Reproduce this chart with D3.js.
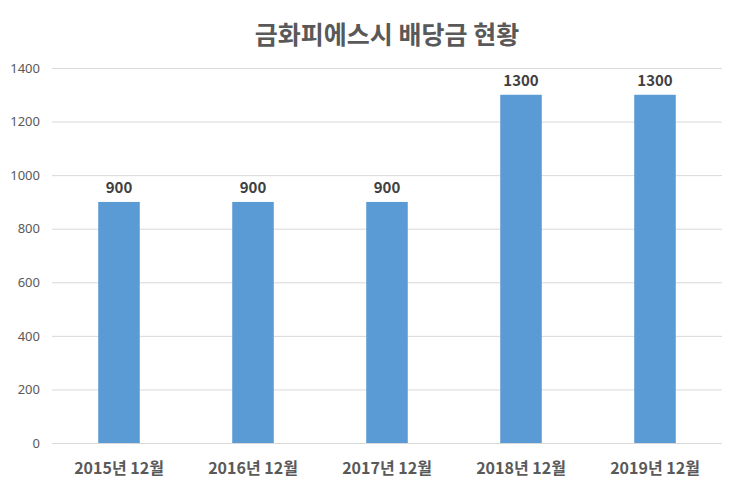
<!DOCTYPE html>
<html>
<head>
<meta charset="utf-8">
<script src="https://cdn.jsdelivr.net/npm/d3@7"></script>
<style>
  body { margin: 0; background: #fff; }
  text { font-family: "Noto Sans CJK KR", "Noto Sans", sans-serif; }
</style>
</head>
<body>
<div id="chart"></div>
<script>
const categories = ['2015년 12월', '2016년 12월', '2017년 12월', '2018년 12월', '2019년 12월'];
const dividends = [900, 900, 900, 1300, 1300];
const yTicks = [0, 200, 400, 600, 800, 1000, 1200, 1400];

const width = 740;
const height = 497;
const margin = { top: 68, right: 18, bottom: 54, left: 52 };

const svg = d3.select('#chart')
  .append('svg')
  .attr('width', width)
  .attr('height', height);

const g = svg.append('g')
  .attr('transform', `translate(${margin.left}, ${margin.top})`);

const innerW = width - margin.left - margin.right;
const innerH = height - margin.top - margin.bottom;

// Scales
const x = d3.scaleBand()
  .domain(categories)
  .range([0, innerW])
  .paddingInner(0.69)
  .paddingOuter(0.345);

const y = d3.scaleLinear()
  .domain([0, 1400])
  .range([innerH, 0]);

// Gridlines
g.append('g')
  .selectAll('line')
  .data(yTicks)
  .join('line')
  .attr('x1', 0)
  .attr('x2', innerW)
  .attr('y1', d => y(d) + 0.5)
  .attr('y2', d => y(d) + 0.5)
  .attr('stroke', '#d9d9d9')
  .attr('stroke-width', 1);

// Y axis labels
const yAxis = g.append('g')
  .call(d3.axisLeft(y).tickValues(yTicks).tickFormat(d3.format('d')).tickSize(0).tickPadding(12));
yAxis.select('.domain').remove();
yAxis.selectAll('text')
  .attr('font-size', '13px')
  .attr('fill', '#595959')
  .style('font-family', '"Noto Sans", sans-serif');

// Bars
g.selectAll('rect.bar')
  .data(dividends)
  .join('rect')
  .attr('class', 'bar')
  .attr('x', (d, i) => x(categories[i]))
  .attr('y', d => y(d))
  .attr('width', x.bandwidth())
  .attr('height', d => innerH - y(d))
  .attr('fill', '#5b9bd5');

// Value labels
g.selectAll('text.value')
  .data(dividends)
  .join('text')
  .attr('class', 'value')
  .attr('x', (d, i) => x(categories[i]) + x.bandwidth() / 2)
  .attr('y', d => y(d) - 9)
  .attr('text-anchor', 'middle')
  .attr('font-size', '15px')
  .attr('font-weight', 'bold')
  .attr('fill', '#404040')
  .text(d => d);

// X axis labels
const xAxis = g.append('g')
  .attr('transform', `translate(0, ${innerH})`)
  .call(d3.axisBottom(x).tickSize(0).tickPadding(20));
xAxis.select('.domain').remove();
xAxis.selectAll('text')
  .attr('font-size', '16px')
  .attr('font-weight', 'bold')
  .attr('fill', '#595959')
  .style('font-family', '"Noto Sans CJK KR", sans-serif');

// Title
svg.append('text')
  .attr('x', margin.left + innerW / 2)
  .attr('y', 44)
  .attr('text-anchor', 'middle')
  .attr('font-size', '25px')
  .attr('font-weight', 'bold')
  .attr('fill', '#595959')
  .text('금화피에스시 배당금 현황');
</script>
</body>
</html>
